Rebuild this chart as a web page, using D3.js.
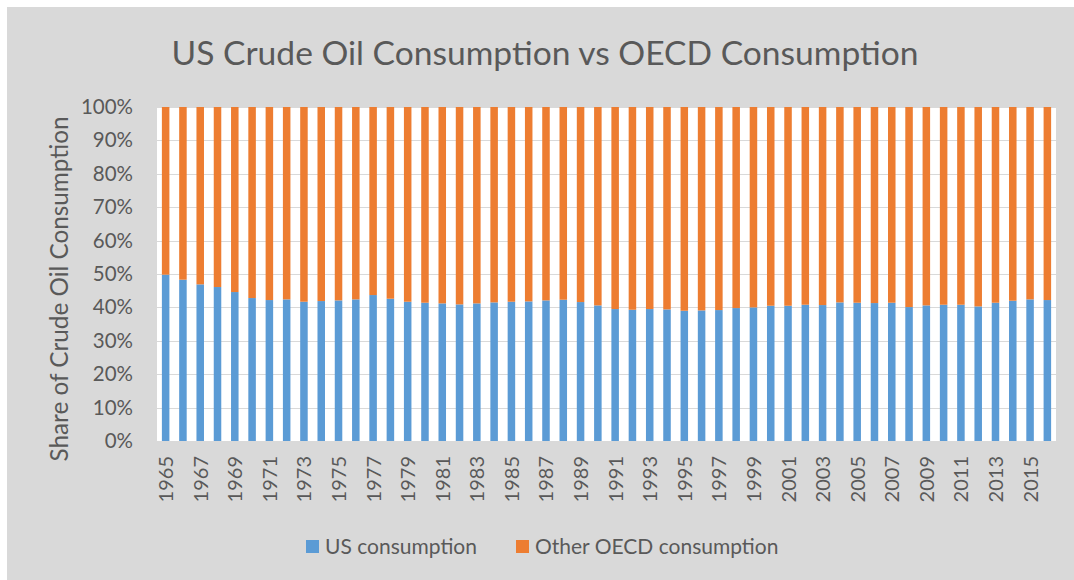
<!DOCTYPE html>
<html>
<head>
<meta charset="utf-8">
<script src="https://cdn.jsdelivr.net/npm/d3@7"></script>
<style>
  html, body { margin: 0; padding: 0; background: #ffffff; }
  svg { display: block; }
  text { font-family: Lato, "Open Sans", sans-serif; fill: #595959; }
</style>
</head>
<body>
<svg id="chart" width="1074" height="580"></svg>
<script>
const years = d3.range(1965, 2017).map(String);
const usShare = [49.8, 48.3, 46.9, 46.1, 44.6, 42.8, 42.2, 42.4, 41.7, 41.9,
  42.1, 42.4, 43.7, 42.6, 41.7, 41.4, 41.2, 40.9, 41.2, 41.5,
  41.7, 41.8, 42.1, 42.3, 41.6, 40.6, 39.5, 39.3, 39.5, 39.4,
  39.0, 39.1, 39.2, 39.8, 40.0, 40.5, 40.5, 40.8, 40.7, 41.5,
  41.4, 41.3, 41.4, 40.1, 40.6, 40.8, 40.8, 40.3, 41.4, 42.0,
  42.4, 42.2];
const otherShare = [50.2, 51.7, 53.1, 53.9, 55.4, 57.2, 57.8, 57.6, 58.3, 58.1,
  57.9, 57.6, 56.3, 57.4, 58.3, 58.6, 58.8, 59.1, 58.8, 58.5,
  58.3, 58.2, 57.9, 57.7, 58.4, 59.4, 60.5, 60.7, 60.5, 60.6,
  61.0, 60.9, 60.8, 60.2, 60.0, 59.5, 59.5, 59.2, 59.3, 58.5,
  58.6, 58.7, 58.6, 59.9, 59.4, 59.2, 59.2, 59.7, 58.6, 58.0,
  57.6, 57.8];
const seriesNames = ["US consumption", "Other OECD consumption"];
const seriesKeys = ["us", "other"];
const colors = ["#5b9bd5", "#ed7d31"];
const yTicks = [0, 0.1, 0.2, 0.3, 0.4, 0.5, 0.6, 0.7, 0.8, 0.9, 1.0];
const titleText = "US Crude Oil Consumption vs OECD Consumption";
const yTitle = "Share of Crude Oil Consumption";

const rows = years.map((y, i) => ({ year: y, us: usShare[i], other: otherShare[i] }));
const stacked = d3.stack().keys(seriesKeys).offset(d3.stackOffsetExpand)(rows);

const svg = d3.select("#chart");
const W = 1074, H = 580;
const plot = { left: 157, right: 1056, top: 107, bottom: 441 };

// chart background
svg.append("rect").attr("x", 7).attr("y", 7).attr("width", W - 7).attr("height", H - 7)
  .attr("fill", "#d9d9d9");
// plot background
svg.append("rect").attr("x", plot.left).attr("y", plot.top)
  .attr("width", plot.right - plot.left).attr("height", plot.bottom - plot.top)
  .attr("fill", "#ffffff");

const x = d3.scaleBand().domain(years).range([plot.left, plot.right]).paddingInner(0.565).paddingOuter(0.2825);
const y = d3.scaleLinear().domain([0, 1]).range([plot.bottom, plot.top]);

// gridlines
svg.append("g").selectAll("line").data(yTicks).join("line")
  .attr("x1", plot.left).attr("x2", plot.right)
  .attr("y1", d => Math.round(y(d)) + 0.5).attr("y2", d => Math.round(y(d)) + 0.5)
  .attr("stroke", "#d9d9d9").attr("stroke-width", 1);

// bars
svg.append("g").selectAll("g").data(stacked).join("g")
  .attr("fill", (d, i) => colors[i])
  .selectAll("rect").data(d => d).join("rect")
  .attr("x", d => x(d.data.year))
  .attr("width", x.bandwidth())
  .attr("y", d => y(d[1]))
  .attr("height", d => y(d[0]) - y(d[1]));

// y axis
const yAxis = d3.axisLeft(y).tickValues(yTicks).tickFormat(d3.format(".0%")).tickSize(0).tickPadding(0);
const gy = svg.append("g").attr("transform", `translate(${plot.left - 24},0)`).call(yAxis);
gy.select(".domain").remove();
gy.selectAll("text").attr("font-size", 20.5).attr("fill", "#595959")
  .style("font-family", "Lato, 'Open Sans', sans-serif");

// x axis
const xAxis = d3.axisBottom(x).tickValues(years.filter((d, i) => i % 2 === 0)).tickSize(0).tickPadding(0);
const gx = svg.append("g").attr("transform", `translate(0,${plot.bottom})`).call(xAxis);
gx.select(".domain").remove();
gx.selectAll("text")
  .attr("font-size", 20).attr("fill", "#595959")
  .style("font-family", "Lato, 'Open Sans', sans-serif")
  .attr("text-anchor", "end")
  .attr("dy", null)
  .attr("y", 0)
  .attr("transform", "translate(7.5,15) rotate(-90)");

// title
svg.append("text").attr("x", 545).attr("y", 65).attr("text-anchor", "middle")
  .attr("font-size", 33.6).text(titleText);

// y title
svg.append("text").attr("transform", `translate(68,289) rotate(-90)`)
  .attr("text-anchor", "middle").attr("font-size", 24.3).text(yTitle);

// legend
const legendX = [306, 516];
const lg = svg.append("g");
seriesNames.forEach((name, i) => {
  lg.append("rect").attr("x", legendX[i]).attr("y", 540).attr("width", 13).attr("height", 13).attr("fill", colors[i]);
  lg.append("text").attr("x", legendX[i] + 19).attr("y", 554).attr("font-size", 21).text(name);
});
</script>
</body>
</html>
